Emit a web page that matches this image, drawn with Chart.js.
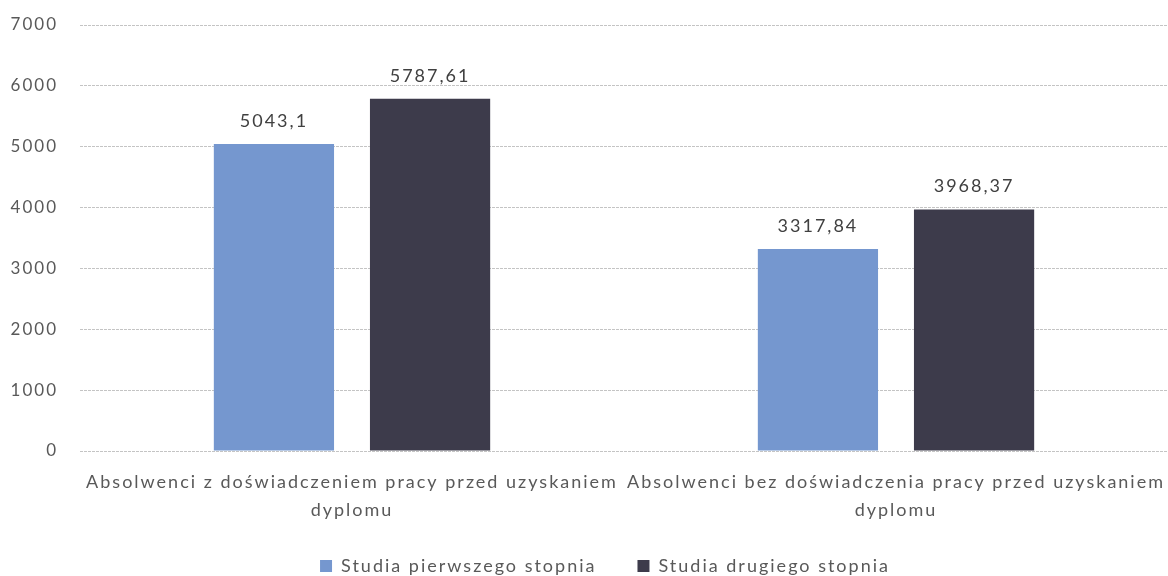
<!DOCTYPE html>
<html><head><meta charset="utf-8">
<script src="https://cdn.jsdelivr.net/npm/chart.js@4"></script>
<style>html,body{margin:0;padding:0;background:#fff}#c{display:block}</style>
</head><body>
<canvas id="c" width="1168" height="576"></canvas>
<script>
const categories = [
  ["Absolwenci z doświadczeniem pracy przed uzyskaniem", "dyplomu"],
  ["Absolwenci bez doświadczenia pracy przed uzyskaniem", "dyplomu"]
];
const seriesNames = ["Studia pierwszego stopnia", "Studia drugiego stopnia"];
const firstDegree = [5043.1, 3317.84];
const secondDegree = [5787.61, 3968.37];
const yTicks = [0, 1000, 2000, 3000, 4000, 5000, 6000, 7000];

const FONT = "Lato, 'Open Sans', sans-serif";
const TXT = "#595959";
const SPACING = '2px';

const canvas = document.getElementById('c');

const spacingPlugin = {
  id: 'spacing',
  beforeUpdate(chart) { chart.ctx.letterSpacing = SPACING; },
  beforeLayout(chart) { chart.ctx.letterSpacing = SPACING; },
  beforeDraw(chart) { chart.ctx.letterSpacing = SPACING; },
  afterLayout(chart) {
    const lg = chart.legend;
    if (lg) { lg.top += 9; lg.bottom += 9; lg.left += 19; lg.right += 19; }
  }
};

const labelPlugin = {
  id: 'valLabels',
  afterDatasetsDraw(chart) {
    const ctx = chart.ctx;
    ctx.save();
    ctx.font = "18px " + FONT;
    ctx.fillStyle = "#404040";
    ctx.textAlign = "center";
    ctx.textBaseline = "bottom";
    chart.data.datasets.forEach((ds, i) => {
      chart.getDatasetMeta(i).data.forEach((el, j) => {
        ctx.fillText(String(ds.data[j]).replace('.', ','), el.x, el.y - 14);
      });
    });
    ctx.restore();
  }
};

const noPad = axis => { axis.paddingLeft = 0; axis.paddingRight = 0; axis.paddingTop = 0; axis.paddingBottom = 0; };

new Chart(canvas, {
  type: 'bar',
  data: {
    labels: categories,
    datasets: [
      { label: seriesNames[0], data: firstDegree, backgroundColor: '#7597CF', borderWidth: 0 },
      { label: seriesNames[1], data: secondDegree, backgroundColor: '#3D3B4B', borderWidth: 0 }
    ]
  },
  options: {
    responsive: false,
    animation: false,
    layout: { padding: { left: 4, right: 0, top: 25, bottom: 0 } },
    datasets: { bar: { categoryPercentage: 0.574, barPercentage: 0.77 } },
    scales: {
      x: {
        afterFit: axis => { noPad(axis); axis.height = 89; },
        grid: { display: false, drawTicks: false },
        border: { display: false },
        ticks: { color: TXT, font: { family: FONT, size: 18, lineHeight: 1.55 }, maxRotation: 0, autoSkip: false, padding: 17 }
      },
      y: {
        min: 0, max: 7000,
        afterFit: axis => { noPad(axis); axis.width = 76; },
        afterBuildTicks(axis) { axis.ticks = yTicks.map(v => ({ value: v })); },
        grid: { color: '#c4c4c4', drawTicks: false, lineWidth: 1 },
        border: { display: false, dash: [3, 1] },
        ticks: { color: TXT, font: { family: FONT, size: 17 }, padding: 22, callback: v => String(v) }
      }
    },
    plugins: {
      tooltip: { enabled: false },
      legend: {
        position: 'bottom',
        labels: {
          color: TXT, font: { family: FONT, size: 18 }, boxWidth: 12, boxHeight: 12, padding: 8,
          generateLabels(chart) {
            const items = Chart.defaults.plugins.legend.labels.generateLabels(chart);
            items.forEach((it, i) => { it.lineWidth = 0; if (i < items.length - 1) it.text += '\u2002\u2002\u2002'; });
            return items;
          }
        }
      }
    }
  },
  plugins: [spacingPlugin, labelPlugin]
});
</script>
</body></html>
